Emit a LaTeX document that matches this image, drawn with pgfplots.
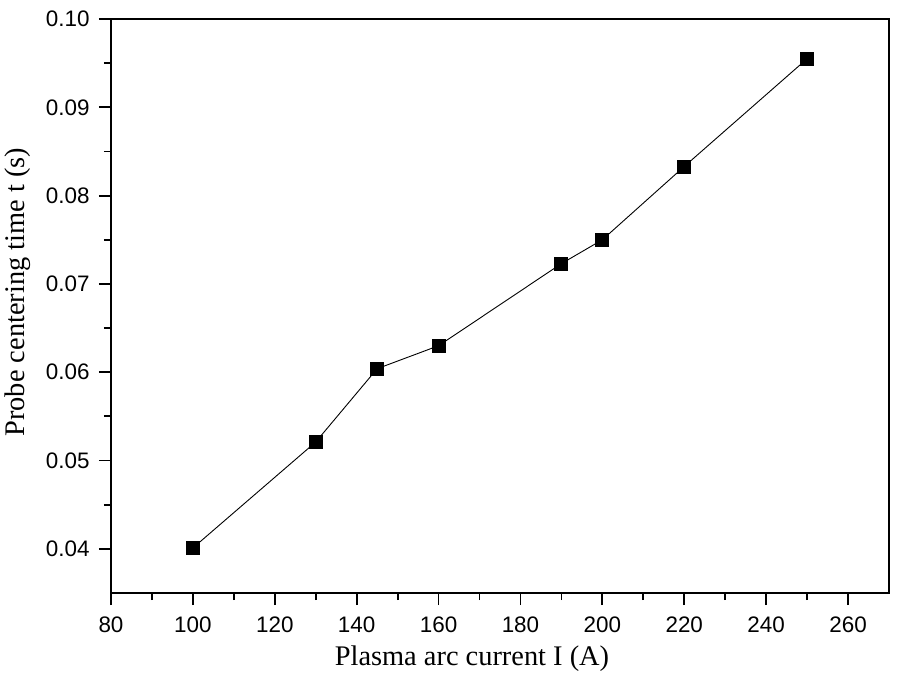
\documentclass[border=0pt]{standalone}
\usepackage{fontspec}
\setmainfont{Liberation Serif}
\newfontfamily\ticksans{Liberation Sans}
\usepackage{pgfplots}
\pgfplotsset{compat=1.18}

\begin{document}
\begin{tikzpicture}
\begin{axis}[
  scale only axis,
  width=778bp, height=574bp,
  xmin=80, xmax=270,
  ymin=0.035, ymax=0.10,
  xtick={80,100,...,260},
  ytick={0.04,0.05,...,0.10},
  minor x tick num=1,
  minor y tick num=1,
  xtick pos=left, ytick pos=left,
  tick align=outside,
  major tick length=12bp,
  minor tick length=7bp,
  every tick/.style={black, line width=1.8bp},
  axis line style={line width=1.8bp},
  tick label style={font=\fontsize{22.5}{26}\selectfont\ticksans},
  /pgf/number format/assume math mode=true,
  yticklabel style={xshift=-6bp, /pgf/number format/fixed, /pgf/number format/fixed zerofill, /pgf/number format/precision=2},
  xticklabel style={yshift=-8bp, /pgf/number format/1000 sep={}},
  scaled y ticks=false,
  label style={font=\fontsize{28.5}{32}\selectfont},
  xlabel={Plasma arc current I (A)},
  ylabel={Probe centering time t (s)},
  xlabel style={at={(axis description cs:0.464,-0.115)}, anchor=center},
  ylabel style={at={(axis description cs:-0.1195,0.524)}, anchor=center},
]
\addplot[black, line width=0.9bp, mark=square*, mark size=6.5bp, mark options={solid, fill=black}]
coordinates {
  (100, 0.0401) (130, 0.0521) (145, 0.0604) (160, 0.0630)
  (190, 0.0723) (200, 0.0750) (220, 0.0833) (250, 0.0955)
};
\end{axis}
\path[use as bounding box] (current axis.south west) ++(-111bp,-86bp) rectangle ++(898bp,679bp);
\end{tikzpicture}
\end{document}
